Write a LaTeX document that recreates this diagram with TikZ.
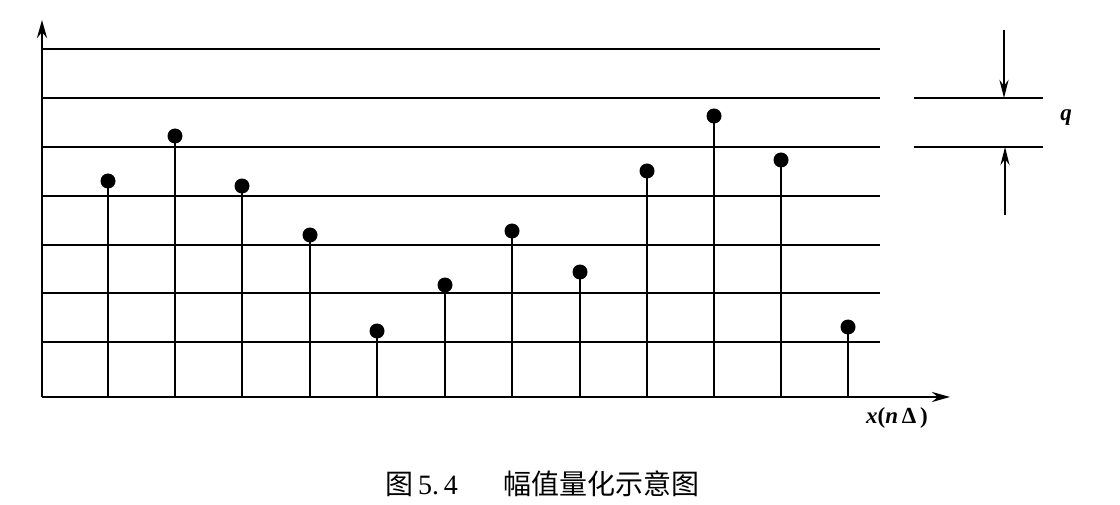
\documentclass[tikz,border=0pt]{standalone}
\usepackage{fontspec}
\setmainfont{Liberation Serif}
\newfontfamily\cjk{Noto Sans CJK SC}
\usetikzlibrary{arrows.meta}
\begin{document}
\begin{tikzpicture}[x=1pt,y=-1pt,
  axis/.style={line width=2.6pt,-{Stealth[length=18pt,width=10pt]}},
  level/.style={line width=2.4pt},
  stem/.style={line width=2.4pt},
  dot/.style={circle,fill=black,inner sep=0pt,minimum size=15pt},
  marker/.style={line width=2.4pt,-{Stealth[length=18pt,width=9pt]}},
  lab/.style={font=\fontsize{23}{25}\selectfont\bfseries}]
\useasboundingbox[fill=white] (0,0) rectangle (1120,505);
% axes
\coordinate (O) at (42,397);
\coordinate (ytip) at (42,20);
\coordinate (xtip) at (950,397);
\draw[axis] (O) -- (ytip);
\draw[axis] (O) -- (xtip);
% quantization levels
\foreach \yy in {49,98,147,196,245,293,342}
  \draw[level] (42,\yy) -- (880,\yy);
% stems
\foreach \i/\xx/\yy in {1/108/181,2/175/136,3/242/186,4/310/235,5/377/331,6/445/285,7/512/231,8/580/272,9/647/171,10/714/116,11/781/160,12/848/327}{
  \coordinate (b\i) at (\xx,397);
  \node[dot] (d\i) at (\xx,\yy) {};
  \draw[stem] (b\i) -- (d\i.center);
}
% q marker
\coordinate (qa1) at (914,98);
\coordinate (qa2) at (1043,98);
\coordinate (qb1) at (914,147);
\coordinate (qb2) at (1043,147);
\draw[level] (qa1) -- (qa2);
\draw[level] (qb1) -- (qb2);
\coordinate (m1s) at (1004,30);
\coordinate (m1e) at (1004,98);
\coordinate (m2s) at (1005,215);
\coordinate (m2e) at (1005,147);
\draw[marker] (m1s) -- (m1e);
\draw[marker] (m2s) -- (m2e);
\node[lab] (qlab) at (1066,118) {\itshape q};
% x label
\node[lab] (xlab) at (897,418) {{\itshape x}({\itshape n}\,Δ\,)};
% caption
\node[anchor=west,font=\fontsize{28}{30}\selectfont] (cap1) at (382,484) {{\cjk 图}\,5.\,4};
\node[anchor=west,font=\fontsize{28}{30}\selectfont\cjk] (cap2) at (500,484) {幅值量化示意图};
\end{tikzpicture}
\end{document}
